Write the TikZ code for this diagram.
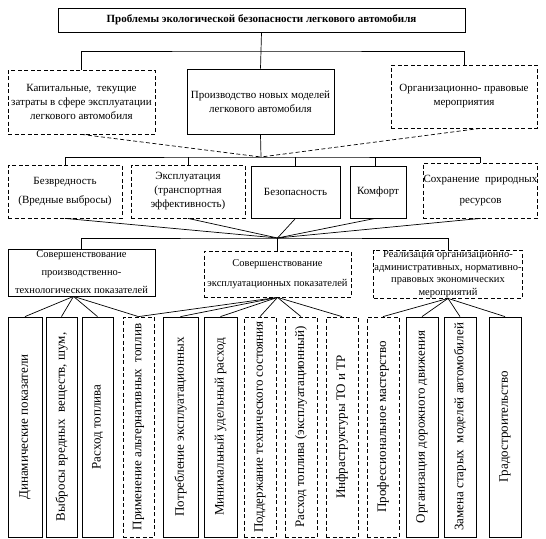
\documentclass[tikz,border=0pt]{standalone}
\usepackage{fontspec}
\setmainfont{Liberation Serif}

\begin{document}
\begin{tikzpicture}[x=1pt, y=-1pt,
	solidbox/.style={draw, line width=0.8pt, rectangle, inner sep=0.5pt, align=center, font=\fontsize{11}{14}\selectfont},
	dashbox/.style={solidbox, dash pattern=on 4pt off 2.5pt},
	colbox/.style={minimum width=32, minimum height=220},
	vtext/.style={rotate=90, inner sep=0pt, font=\fontsize{13}{15}\selectfont},
	link/.style={line width=0.7pt},
	dashlink/.style={link, dash pattern=on 4pt off 2.5pt}]
	\fill[white] (0,0) rectangle (546,538);
	\useasboundingbox (0,0) rectangle (546,538);

	\node[solidbox, minimum width=407, minimum height=24, font=\bfseries\fontsize{11}{13}\selectfont] (title) at (261.5,20) {Проблемы экологической безопасности легкового автомобиля};

	\node[dashbox, minimum width=147, minimum height=64] (capex) at (81.5,102) {Капитальные,~ текущие\\затраты в сфере эксплуатации\\легкового автомобиля};
	\node[solidbox, minimum width=147, minimum height=65] (newmod) at (260.5,101.5) {Производство новых моделей\\легкового автомобиля};
	\node[dashbox, minimum width=146, minimum height=63] (orgmeas) at (464,96.5) {Организационно- правовые\\мероприятия};

	\node[dashbox, minimum width=114, minimum height=53] (harm) at (65,191.5) {Безвредность\\[5pt](Вредные выбросы)};
	\node[dashbox, minimum width=114, minimum height=53] (oper) at (188,191.5) {Эксплуатация\\(транспортная\\эффективность)};
	\node[solidbox, minimum width=89, minimum height=52] (safe) at (295.5,192) {Безопасность};
	\node[solidbox, minimum width=56, minimum height=52] (comf) at (378,192) {Комфорт};
	\node[dashbox, minimum width=113, minimum height=55] (res) at (480.5,190.5) {Сохранение~ природных\\[7pt]ресурсов};

	\node[solidbox, minimum width=147, minimum height=47, font=\fontsize{10.5}{14}\selectfont] (prodimp) at (81.5,272.5) {Совершенствование\\[4pt]производственно-\\[4pt]технологических показателей};
	\node[dashbox, minimum width=147, minimum height=46, font=\fontsize{10.5}{14}\selectfont] (operimp) at (277.5,274) {Совершенствование\\[6pt]эксплуатационных показателей};
	\node[dashbox, minimum width=146, minimum height=48, font=\fontsize{10.5}{12.5}\selectfont] (orgimp) at (448,274) {Реализация организационно-\\административных, нормативно-\\правовых экономических\\мероприятий};

	\node[solidbox, colbox, minimum width=34, label={[vtext]center:Динамические показатели}] (b1) at (25,427) {};
	\node[solidbox, colbox, minimum width=31, label={[vtext]center:Выбросы вредных~ веществ, шум,}] (b2) at (61.5,427) {};
	\node[solidbox, colbox, minimum width=31, label={[vtext]center:Расход топлива}] (b3) at (97.5,427) {};
	\node[dashbox, colbox, minimum width=31, label={[vtext]center:Применение альтернативных~ топлив}] (b4) at (138.5,427) {};
	\node[solidbox, colbox, minimum width=35, label={[vtext]center:Потребление эксплуатационных}] (b5) at (180.5,427) {};
	\node[solidbox, colbox, minimum width=33, label={[vtext]center:Минимальный удельный расход}] (b6) at (220.5,427) {};
	\node[dashbox, colbox, label={[vtext]center:Поддержание технического состояния}] (b7) at (260,427) {};
	\node[dashbox, colbox, label={[vtext]center:Расход топлива (эксплуатационный)}] (b8) at (301,427) {};
	\node[dashbox, colbox, label={[vtext]center:Инфраструктуры ТО и ТР}] (b9) at (342,427) {};
	\node[dashbox, colbox, label={[vtext]center:Профессиональное мастерство}] (b10) at (383,427) {};
	\node[solidbox, colbox, label={[vtext]center:Организация дорожного движения}] (b11) at (422,427) {};
	\node[solidbox, colbox, label={[vtext]center:Замена старых~ моделей автомобилей}] (b12) at (460,427) {};
	\node[solidbox, colbox, label={[vtext]center:Градостроительство}] (b13) at (505,427) {};

	\coordinate (busA) at (261,51);
	\coordinate (hubB) at (261,157);
	\coordinate (hubC) at (277.5,238);

	\draw[link] (title.south) -- (newmod.north);
	\draw[link] (capex.north) |- (busA) -| (orgmeas.north);

	\draw[dashlink] (capex.south) -- (hubB);
	\draw[dashlink] ([xshift=16]orgmeas.south) -- (hubB);
	\draw[link] (newmod.south) -- (hubB);
	\draw[link] (harm.north) |- (hubB) -| (res.north);
	\draw[link] (oper.north) -- (oper.north |- hubB);
	\draw[link] (safe.north) -- (safe.north |- hubB);
	\draw[link] ([xshift=-3]comf.north) -- ([xshift=-3]comf.north |- hubB);

	\foreach \s in {harm,oper,safe,res}
		\draw[link] (\s.south) -- (hubC);
	\draw[link] ([xshift=-3]comf.south) -- (hubC);
	\draw[link] (prodimp.north) |- (hubC) -| (orgimp.north);
	\draw[link] (hubC) -- (operimp.north);

	\foreach \b in {b1,b2,b3,b4}
		\draw[link] ([xshift=-8]prodimp.south) -- (\b.north);
	\foreach \b in {b4,b5,b6,b7,b8,b9}
		\draw[link] (operimp.south) -- (\b.north);
	\foreach \b in {b10,b11,b12,b13}
		\draw[link] (orgimp.south) -- (\b.north);
\end{tikzpicture}
\end{document}
